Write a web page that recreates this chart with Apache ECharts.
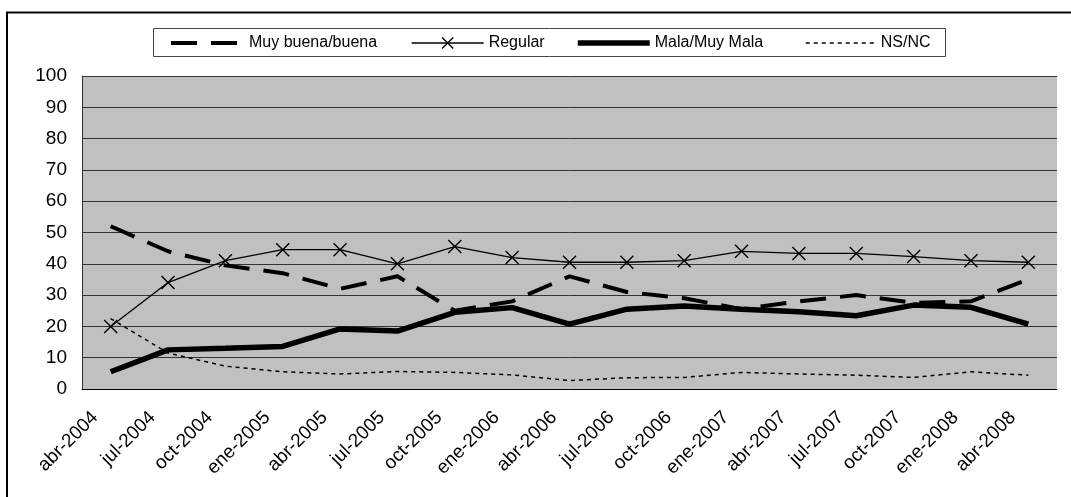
<!DOCTYPE html>
<html>
<head>
<meta charset="utf-8">
<script src="https://cdn.jsdelivr.net/npm/echarts@6/dist/echarts.min.js"></script>
<style>
html,body{margin:0;padding:0;background:#fff;}
#chart{width:1071px;height:497px;}
</style>
</head>
<body>
<div id="chart"></div>
<script>
const categories = ['abr-2004','jul-2004','oct-2004','ene-2005','abr-2005','jul-2005','oct-2005','ene-2006','abr-2006','jul-2006','oct-2006','ene-2007','abr-2007','jul-2007','oct-2007','ene-2008','abr-2008'];
const muyBuena = [52, 44, 39.5, 37, 32, 36, 25, 28, 36, 31, 29, 25.5, 28, 30, 27.5, 28, 35];
const regular  = [20, 34, 41, 44.5, 44.5, 40, 45.5, 42, 40.5, 40.5, 41, 44, 43.3, 43.3, 42.3, 41, 40.5];
const mala     = [5.5, 12.5, 13, 13.6, 19.2, 18.5, 24.5, 26, 20.7, 25.5, 26.5, 25.5, 24.7, 23.4, 26.8, 26.1, 20.7];
const nsnc     = [22.5, 11.5, 7.3, 5.5, 4.8, 5.6, 5.3, 4.5, 2.7, 3.6, 3.7, 5.3, 4.8, 4.4, 3.7, 5.5, 4.4];
const names = ['Muy buena/buena', 'Regular', 'Mala/Muy Mala', 'NS/NC'];
const yTicks = {min: 0, max: 100, interval: 10};

const FONT = '"Liberation Sans", Arial, sans-serif';
const chart = echarts.init(document.getElementById('chart'), null, {renderer: 'canvas'});

function legendAt(name, left, itemWidth, width, extraPad) {
  const isReg = name === 'Regular';
  return {
    data: [name],
    left: left,
    top: 35,
    itemWidth: itemWidth,
    itemHeight: 14,
    padding: 0,
    selectedMode: false,
    textStyle: {fontFamily: FONT, fontSize: 16, color: '#000', padding: [0, 0, 0, extraPad]},
    lineStyle: {width: width},
    itemStyle: isReg ? {borderWidth: 1.4} : {opacity: 0, borderWidth: 0}
  };
}

chart.setOption({
  animation: false,
  backgroundColor: '#fff',
  graphic: [
    {type: 'rect', shape: {x: 7, y: 12.5, width: 1100, height: 520}, style: {fill: 'none', stroke: '#000', lineWidth: 2}, z: 100},
    {type: 'rect', shape: {x: 153.5, y: 28.5, width: 792, height: 28}, style: {fill: '#fff', stroke: '#444', lineWidth: 1}, z: -1}
  ],
  legend: [
    legendAt(names[0], 169, 68, 4, 5),
    legendAt(names[1], 411, 72, 1.3, 0),
    legendAt(names[2], 575, 72, 5.5, 0),
    legendAt(names[3], 805, 70, 1.5, 0)
  ],
  grid: {left: 82, right: 14, top: 76, bottom: 108, show: true, backgroundColor: '#c0c0c0', borderWidth: 0},
  xAxis: {
    type: 'category',
    data: categories,
    boundaryGap: true,
    axisLine: {lineStyle: {color: '#000', width: 1}},
    axisTick: {length: 5, lineStyle: {color: '#000'}},
    axisLabel: {rotate: 45, interval: 0, margin: 10, fontFamily: FONT, fontSize: 19, color: '#000', padding: [0, 22, 0, 0]},
    splitLine: {show: false}
  },
  yAxis: {
    type: 'value',
    min: yTicks.min, max: yTicks.max, interval: yTicks.interval,
    axisLine: {show: true, lineStyle: {color: '#333', width: 1}},
    axisTick: {show: false},
    axisLabel: {margin: 15, fontFamily: FONT, fontSize: 19, color: '#000'},
    splitLine: {show: true, lineStyle: {color: '#333', width: 1}}
  },
  series: [
    {name: names[0], type: 'line', data: muyBuena, symbol: 'none',
     lineStyle: {color: '#000', width: 4, type: [26, 14]}, itemStyle: {color: '#000'}, z: 3},
    {name: names[1], type: 'line', data: regular, symbol: 'path://M0,0L10,10M10,0L0,10', symbolSize: 13,
     lineStyle: {color: '#000', width: 1.3}, itemStyle: {color: 'rgba(0,0,0,0)', borderColor: '#000', borderWidth: 1.4}, z: 4},
    {name: names[2], type: 'line', data: mala, symbol: 'none',
     lineStyle: {color: '#000', width: 5.5}, itemStyle: {color: '#000'}, z: 2},
    {name: names[3], type: 'line', data: nsnc, symbol: 'none',
     lineStyle: {color: '#000', width: 1.5, type: [4, 4]}, itemStyle: {color: '#000'}, z: 1}
  ]
});
</script>
</body>
</html>
